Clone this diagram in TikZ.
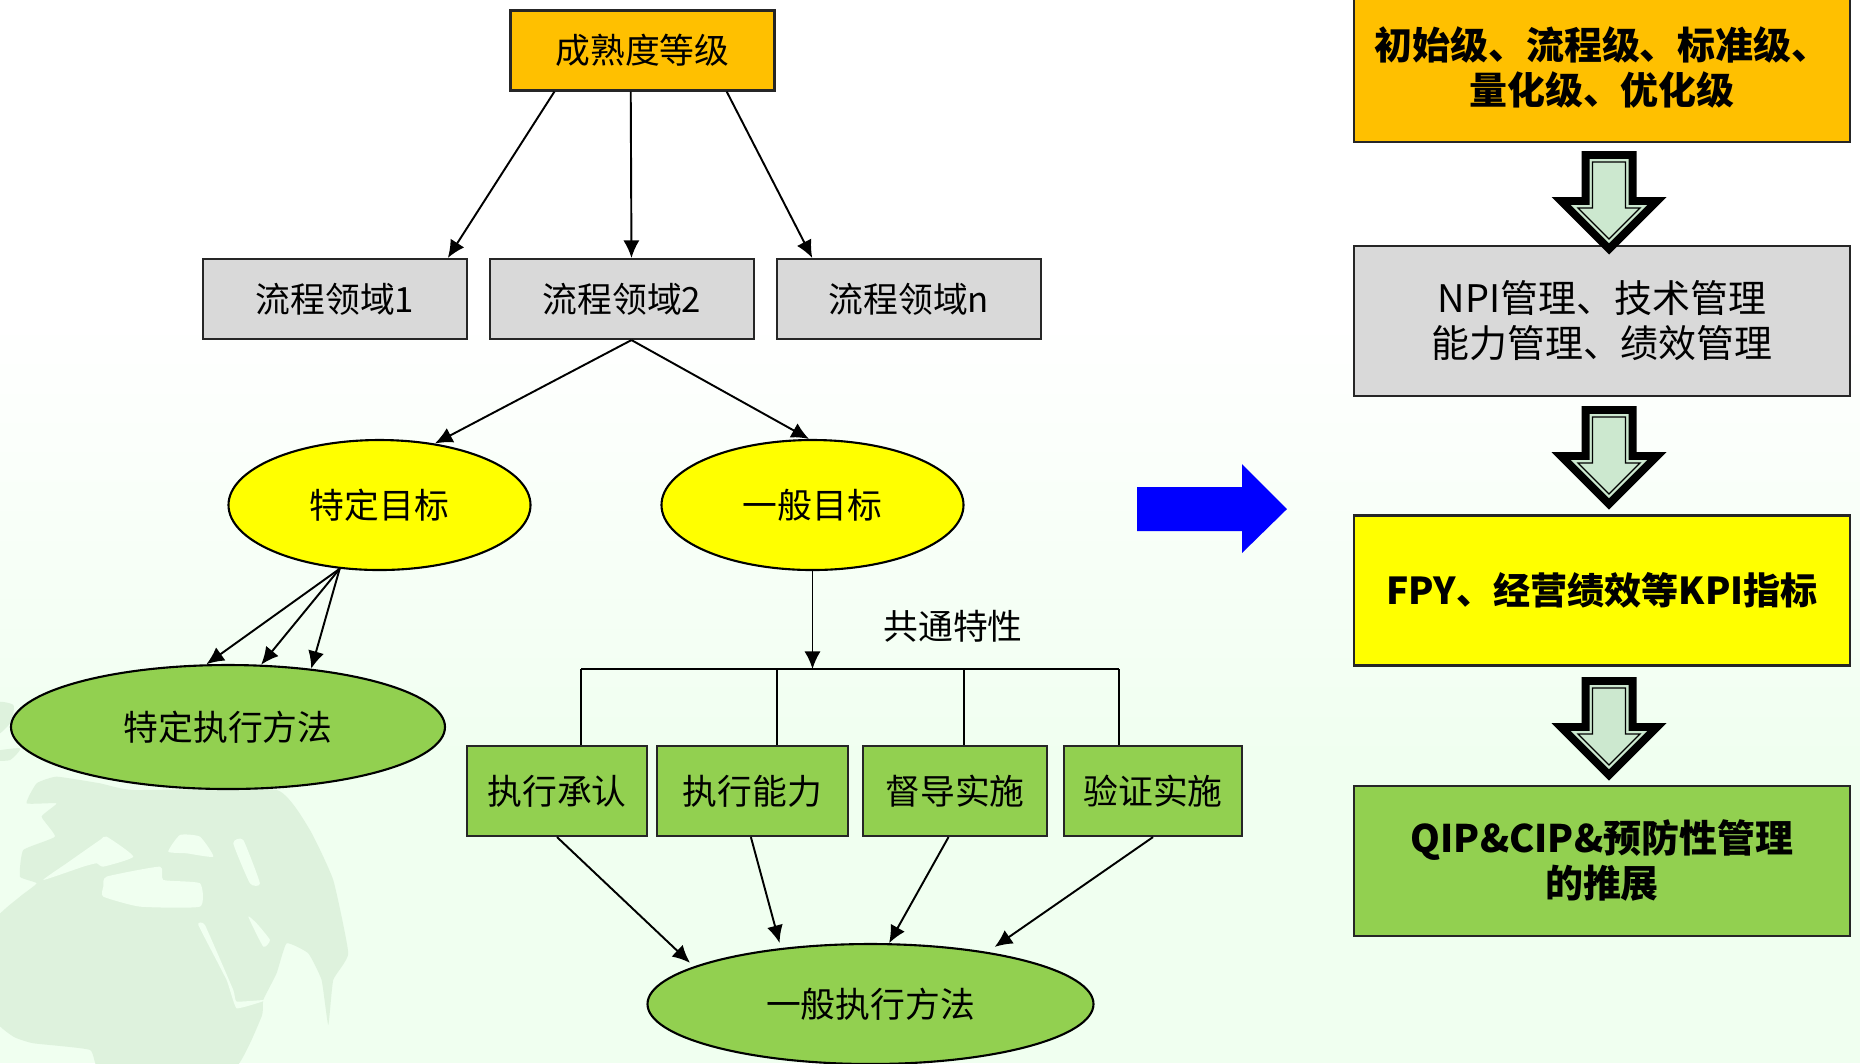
\documentclass[tikz,border=0pt]{standalone}
\usepackage{fontspec}
\setmainfont{Noto Sans CJK SC}
\usepackage{tikz}
\usetikzlibrary{arrows.meta, shapes.geometric}
\definecolor{bgpale}{HTML}{F0FFF0}
\definecolor{landpale}{HTML}{DEF2DD}
\definecolor{orangefill}{HTML}{FFC000}
\definecolor{greyfill}{HTML}{D9D9D9}
\definecolor{greenfill}{HTML}{92D050}
\definecolor{yellowfill}{HTML}{FFFF00}
\definecolor{bluefill}{HTML}{0000FF}
\definecolor{arrowfill}{HTML}{CCE8CF}
\tikzset{
  label font/.style={font=\fontsize{9.9pt}{12.5pt}\selectfont},
  box/.style={draw=black!85, line width=0.6pt, inner sep=0pt, label font, align=center},
  flowbox/.style={box, minimum width=2.64cm, minimum height=0.8cm},
  actbox/.style={box, fill=greenfill, minimum height=0.9cm},
  bigbox/.style={box, minimum width=4.96cm, minimum height=1.5cm, font=\fontsize{10.8pt}{12.8pt}\selectfont},
  boldbox/.style={bigbox, font=\fontsize{10.8pt}{12.8pt}\selectfont\bfseries},
  oval/.style={ellipse, draw=black, line width=0.6pt, inner sep=0pt, label font},
  link/.style={line width=0.55pt, -{Latex[length=5pt,width=4.6pt]}},
  busline/.style={line width=0.55pt},
  downarrow/.pic={
    \fill[black] (-27.5,0) -- (27.5,0) -- (27.5,46) -- (57.5,46) -- (0,103.5) -- (-57.5,46) -- (-27.5,46) -- cycle;
    \fill[arrowfill] (-19.5,8) -- (19.5,8) -- (19.5,54) -- (38.2,54) -- (0,92.2) -- (-38.2,54) -- (-19.5,54) -- cycle;
    \draw[black, line width=0.35pt] (-16.5,11) -- (16.5,11) -- (16.5,57) -- (31,57) -- (0,88) -- (-31,57) -- (-16.5,57) -- cycle;
  }
}
\begin{document}
\begin{tikzpicture}[x=0.1mm, y=-0.1mm]
  \useasboundingbox (0,0) rectangle (1860,1063);
  % page background
  \fill[white] (0,0) rectangle (1860,320);
  \shade[top color=white, bottom color=bgpale] (0,320) rectangle (1860,760);
  \fill[bgpale] (0,760) rectangle (1860,1063);
  \begin{scope}
    \clip (0,680) rectangle (1860,1063);
    \begin{scope}[shift={(0,680)}, x=0.03333mm, y=-0.03333mm]
      \fill[landpale] plot[smooth cycle, tension=0.25] coordinates {(-20,730) (60,650) (110,610) (60,590) (70,510) (165,470) (125,410) (170,370) (80,370) (110,310) (170,290) (300,310) (400,330) (830,330) (930,450) (1000,600) (1045,820) (1000,900) (985,1035) (965,900) (925,820) (860,790) (830,880) (790,960) (785,1010) (690,1180) (310,1180) (270,1110) (100,1090) (40,1070) (-20,1010)};
      \fill[landpale] plot[smooth cycle, tension=0.4] coordinates {(-20,70) (40,75) (30,130) (-20,170)};
      \fill[landpale] plot[smooth cycle, tension=0.4] coordinates {(-20,215) (60,205) (30,240) (-20,240)};
      \fill[bgpale] plot[smooth cycle, tension=0.3] coordinates {(310,620) (320,590) (480,560) (490,600) (600,610) (600,680) (420,680) (310,650)};
      \fill[bgpale] plot[smooth cycle, tension=0.3] coordinates {(130,600) (200,550) (300,480) (320,470) (400,530) (310,560) (290,550) (250,560)};
      \fill[bgpale] plot[smooth cycle, tension=0.3] coordinates {(505,515) (540,465) (600,470) (640,530) (560,520)};
      \fill[bgpale] plot[smooth cycle, tension=0.3] coordinates {(700,490) (730,480) (780,610) (750,610)};
      \fill[bgpale] plot[smooth cycle, tension=0.2] coordinates {(595,735) (615,735) (700,930) (710,965) (800,960) (710,985) (680,900)};
      \fill[bgpale] plot[smooth cycle, tension=0.3] coordinates {(745,710) (770,730) (810,780) (790,800)};
    \end{scope}
  \end{scope}

  % left tree
  \node[flowbox, fill=orangefill] (level) at (642.5,50.5) {成熟度等级};
  \node[flowbox, fill=greyfill] (area1) at (335,299) {流程领域1};
  \node[flowbox, fill=greyfill] (area2) at (622,299) {流程领域2};
  \node[flowbox, fill=greyfill] (area3) at (909,299) {流程领域n};
  \node[oval, fill=yellowfill, minimum width=3.02cm, minimum height=1.3cm] (specgoal) at (379.5,505) {特定目标};
  \node[oval, fill=yellowfill, minimum width=3.02cm, minimum height=1.3cm] (gengoal) at (812.5,505) {一般目标};
  \node[oval, fill=greenfill, minimum width=4.34cm, minimum height=1.24cm] (specway) at (228,727) {特定执行方法};
  \node[label font] (common) at (953,626) {共通特性};
  \node[actbox, minimum width=1.8cm] (act1) at (557,791) {执行承认};
  \node[actbox, minimum width=1.91cm] (act2) at (752.5,791) {执行能力};
  \node[actbox, minimum width=1.84cm] (act3) at (955,791) {督导实施};
  \node[actbox, minimum width=1.78cm] (act4) at (1153,791) {验证实施};
  \node[oval, fill=greenfill, minimum width=4.46cm, minimum height=1.2cm] (genway) at (870.5,1004) {一般执行方法};

  \draw[link] (level.-155.7) -- (area1.20.6);
  \draw[link] (level.-106.2) -- (area2.77.3);
  \draw[link] (level.-26) -- (area3.157.8);
  \draw[link] (area2.-77.3) -- (specgoal.48);
  \draw[link] (area2.-77.3) -- (gengoal.93);
  \draw[link] (specgoal.-122.5) -- (specway.109.5);
  \draw[link] (specgoal.-122.5) -- (specway.62);
  \draw[link] (specgoal.-122.5) -- (specway.35);

  \coordinate (bus1) at (581,669);
  \coordinate (bus2) at (777,669);
  \coordinate (bus3) at (964,669);
  \coordinate (bus4) at (1119,669);
  \draw[link] (gengoal.south) -- (gengoal.south |- bus1);
  \draw[busline] (bus1) -- (bus4);
  \draw[busline] (bus1) -- (bus1 |- act1.north);
  \draw[busline] (bus2) -- (bus2 |- act2.north);
  \draw[busline] (bus3) -- (bus3 |- act3.north);
  \draw[busline] (bus4) -- (bus4 |- act4.north);

  \draw[link, shorten >=1.5pt] (act1.south) -- (genway.168.5);
  \draw[link, shorten >=1.5pt] (act2.-92) -- (genway.148.5);
  \draw[link] (act3.-98.8) -- (genway.73);
  \draw[link, shorten >=2.5pt] (act4.south) -- (genway.24);

  % blue arrow
  \fill[bluefill] (1137,487) -- (1242,487) -- (1242,464) -- (1287,509) -- (1242,553) -- (1242,531) -- (1137,531) -- cycle;

  % right column
  \node[boldbox, fill=orangefill] (levels) at (1602,67) {初始级、流程级、标准级、\\量化级、优化级};
  \node[bigbox, fill=greyfill] (manage) at (1602,321) {NPI管理、技术管理\\能力管理、绩效管理};
  \node[boldbox, fill=yellowfill, font=\fontsize{10.55pt}{12.8pt}\selectfont\bfseries] (kpi) at (1602,590.5) {FPY、经营绩效等KPI指标};
  \node[boldbox, fill=greenfill] (qip) at (1602,861) {QIP\&CIP\&预防性管理\\的推展};
  \pic at (1609,151) {downarrow};
  \pic at (1609,406) {downarrow};
  \pic at (1609,677) {downarrow};
\end{tikzpicture}
\end{document}
